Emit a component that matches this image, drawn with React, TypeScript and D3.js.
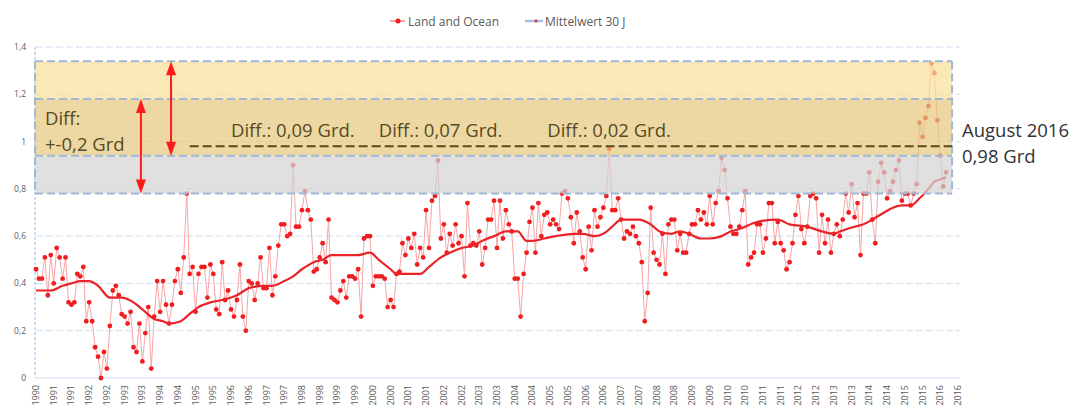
import React from 'react';
import * as d3 from 'd3';

// monthly anomalies (Land and Ocean)
const landOcean1990s = [
  0.46, 0.42, 0.42, 0.51, 0.35, 0.52, 0.40, 0.55, 0.51, 0.42,
  0.51, 0.32, 0.31, 0.32, 0.44, 0.43, 0.47, 0.24, 0.32, 0.24,
  0.13, 0.09, 0.00, 0.11, 0.04, 0.22, 0.37, 0.39, 0.35, 0.27,
  0.26, 0.23, 0.28, 0.13, 0.11, 0.23, 0.07, 0.19, 0.30, 0.04,
  0.26, 0.41, 0.28, 0.41, 0.31, 0.23, 0.31, 0.41, 0.46, 0.36,
  0.51, 0.78, 0.44, 0.47, 0.28, 0.44, 0.47, 0.47, 0.34, 0.48,
  0.44, 0.29, 0.27, 0.49, 0.33, 0.37, 0.29, 0.26, 0.33, 0.48,
  0.26, 0.20, 0.41, 0.40, 0.33, 0.40, 0.51, 0.38, 0.38, 0.55,
  0.35, 0.43, 0.56, 0.65, 0.65, 0.60, 0.61, 0.90, 0.64, 0.64,
  0.71, 0.79, 0.71, 0.67, 0.45, 0.46, 0.51, 0.57, 0.49, 0.67,
  0.34, 0.33, 0.32, 0.37, 0.41, 0.34, 0.43, 0.43, 0.42, 0.46, 0.26,
];
const landOcean2000s = [
  0.59, 0.60, 0.60, 0.39, 0.43, 0.43, 0.43, 0.42, 0.30, 0.33,
  0.30, 0.44, 0.45, 0.57, 0.52, 0.59, 0.55, 0.61, 0.48, 0.55,
  0.51, 0.71, 0.55, 0.75, 0.77, 0.92, 0.59, 0.65, 0.53, 0.61,
  0.56, 0.65, 0.57, 0.60, 0.43, 0.74, 0.56, 0.57, 0.56, 0.62,
  0.48, 0.55, 0.67, 0.67, 0.75, 0.55, 0.75, 0.59, 0.71, 0.65,
  0.62, 0.42, 0.42, 0.26, 0.44, 0.53, 0.66, 0.72, 0.53, 0.74,
  0.60, 0.69, 0.70, 0.65,
];
const landOcean2005s = [
  0.67, 0.65, 0.63, 0.78, 0.79, 0.76, 0.68, 0.57, 0.70, 0.62,
  0.51, 0.46, 0.64, 0.54, 0.71, 0.64, 0.68, 0.72, 0.77, 0.97,
  0.71, 0.71, 0.76, 0.67, 0.59, 0.62, 0.61, 0.64, 0.60, 0.57,
  0.49, 0.24, 0.36, 0.72, 0.53, 0.50, 0.48, 0.61, 0.44, 0.65,
  0.67, 0.67, 0.54, 0.61, 0.53, 0.53, 0.61, 0.65, 0.65, 0.71,
  0.67, 0.70, 0.65, 0.77, 0.65, 0.74, 0.79, 0.93, 0.88, 0.76,
  0.64, 0.61, 0.61, 0.64, 0.71, 0.79, 0.48,
];
const landOcean2010s = [
  0.51, 0.53, 0.65, 0.65, 0.53, 0.59, 0.74, 0.74, 0.57, 0.66,
  0.57, 0.54, 0.46, 0.49, 0.57, 0.69, 0.77, 0.63, 0.57, 0.64,
  0.77, 0.78, 0.76, 0.53, 0.69, 0.57, 0.67, 0.53, 0.61, 0.65,
  0.60, 0.67, 0.78, 0.70, 0.82, 0.68, 0.74, 0.52, 0.78, 0.78,
  0.87, 0.67, 0.57, 0.83, 0.91, 0.87, 0.76, 0.79, 0.83, 0.88,
  0.92, 0.75, 0.78, 0.78, 0.73, 0.78, 0.82,
];
const landOcean2015s = [1.08, 1.02, 1.10, 1.15, 1.33, 1.29, 1.09, 0.94, 0.81, 0.87];

// 30-year running mean (month index, value)
const meanMonth = [
  0, 5, 9, 12, 15, 18, 21, 25, 29, 33, 36, 40, 43, 45, 49, 51, 55, 59, 63, 68,
  72, 77, 80, 84, 87, 90, 94, 97, 100, 104, 109, 113, 116, 120, 122, 126, 130, 133, 137, 140,
  144, 148, 151, 155, 159, 163, 166, 168, 172, 176, 182, 185, 189, 192, 195, 198, 201, 204, 208, 211,
  215, 218, 221, 225, 228, 232, 235, 238, 244, 251, 255, 261, 266, 270, 272, 277, 280, 283, 287, 290,
  293, 296, 299, 302, 304, 306, 308,
];
const meanValue = [
  0.37, 0.37, 0.39, 0.40, 0.41, 0.41, 0.39, 0.34, 0.34, 0.32, 0.29, 0.25, 0.24, 0.23, 0.24, 0.26, 0.30, 0.32, 0.33, 0.35,
  0.38, 0.39, 0.39, 0.41, 0.43, 0.46, 0.49, 0.50, 0.52, 0.52, 0.52, 0.53, 0.50, 0.46, 0.44, 0.44, 0.44, 0.47, 0.51, 0.53,
  0.55, 0.56, 0.58, 0.60, 0.62, 0.62, 0.58, 0.58, 0.59, 0.60, 0.61, 0.61, 0.60, 0.61, 0.64, 0.67, 0.67, 0.67, 0.65, 0.62,
  0.61, 0.62, 0.61, 0.59, 0.59, 0.60, 0.62, 0.63, 0.66, 0.67, 0.65, 0.64, 0.62, 0.61, 0.62, 0.64, 0.65, 0.67, 0.70, 0.72,
  0.73, 0.73, 0.76, 0.80, 0.83, 0.84, 0.85,
];

const yTicks = [0, 0.2, 0.4, 0.6, 0.8, 1, 1.2, 1.4];
const xTickLabels = [
  '1990', '1991', '1991', '1992', '1992', '1993', '1993', '1994', '1994', '1995', '1995',
  '1996', '1996', '1997', '1997', '1998', '1998', '1999', '1999', '2000', '2000',
  '2001', '2001', '2002', '2002', '2003', '2003', '2004', '2004', '2005', '2005',
  '2006', '2006', '2007', '2007', '2008', '2008', '2009', '2009', '2010', '2010',
  '2011', '2011', '2012', '2012', '2013', '2013', '2014', '2014', '2015', '2015',
  '2016', '2016',
];

// band limits (Grd)
const bandGray = [0.78, 0.94];
const bandTan = [0.94, 1.18];
const bandYellow = [1.18, 1.34];
const augustLevel = 0.98;
const diffLabels = [
  { month: 66, text: 'Diff.: 0,09 Grd.' },
  { month: 116, text: 'Diff.: 0,07 Grd.' },
  { month: 173, text: 'Diff.: 0,02 Grd.' },
];

const W = 1077;
const H = 414;
const fmt = (v: number) => (v === 0 ? '0' : String(v).replace('.', ','));

export default function App() {
  const data = [...landOcean1990s, ...landOcean2000s, ...landOcean2005s, ...landOcean2010s, ...landOcean2015s];
  const x = d3.scaleLinear().domain([0, 312]).range([36, 958]);
  const y = d3.scaleLinear().domain([0, 1.4]).range([378, 47]);

  const rawLine = d3.line<number>().x((_, i) => x(i)).y(d => y(d))(data)!;
  const meanLine = d3.line<number>()
    .x((_, i) => x(meanMonth[i]))
    .y(d => y(d))
    .curve(d3.curveMonotoneX)(meanValue)!;

  const bx0 = x(0) - 1;
  const bx1 = x(310);
  const blue = '#9fb8d6';
  const olive = '#574a1e';

  const arrow = (xm: number, v0: number, v1: number) => {
    const cx = x(xm);
    const yt = y(v1);
    const yb = y(v0);
    return (
      <g>
        <line x1={cx} x2={cx} y1={yt + 10} y2={yb - 10} stroke="#ff1a1a" strokeWidth={2} />
        <path d={`M${cx},${yt} L${cx - 5},${yt + 14} L${cx + 5},${yt + 14} Z`} fill="#ff1a1a" />
        <path d={`M${cx},${yb} L${cx - 5},${yb - 14} L${cx + 5},${yb - 14} Z`} fill="#ff1a1a" />
      </g>
    );
  };

  return (
    <div style={{ position: 'absolute', left: 0, top: 0 }}>
      <svg width={W} height={H} style={{ display: 'block', fontFamily: '"Open Sans", sans-serif' }}>
        <rect width={W} height={H} fill="#fff" />

        {/* legend */}
        <g fontSize={12} fill="#5a5a5a">
          <line x1={390} x2={405} y1={21} y2={21} stroke="#f5a3a3" strokeWidth={2} />
          <circle cx={398} cy={21} r={2.5} fill="#f01e1e" />
          <text x={408} y={25.5}>Land and Ocean</text>
          <line x1={525} x2={543} y1={21} y2={21} stroke="#9dc3e6" strokeWidth={2.5} />
          <circle cx={536} cy={21} r={1.5} fill="#e0302a" />
          <text x={545} y={25.5}>Mittelwert 30 J</text>
        </g>

        {/* grid */}
        {yTicks.map(t => (
          <g key={t}>
            <line x1={36} x2={960} y1={y(t)} y2={y(t)} stroke="#d3dff0" strokeWidth={1}
              strokeDasharray={t === 0 ? undefined : '7,3'} />
            <text x={26} y={y(t) + 3} fontSize={8.5} fill="#595959" textAnchor="end">{fmt(t)}</text>
          </g>
        ))}
        <line x1={35} x2={35} y1={y(1.4)} y2={y(0)} stroke="#a9c6e8" strokeWidth={1.2} strokeDasharray="3,2" />

        {/* x labels */}
        {xTickLabels.map((l, k) => (
          <text key={k} transform={`translate(${x(k * 6) + 3},385) rotate(-90)`} fontSize={9}
            fill="#595959" textAnchor="end">{l}</text>
        ))}

        {/* series */}
        <path d={rawLine} fill="none" stroke="#f7a5a5" strokeWidth={1} />
        {data.map((d, i) => (
          <circle key={i} cx={x(i)} cy={y(d)} r={2.4} fill="#f01e1e" />
        ))}
        <path d={meanLine} fill="none" stroke="#ea2328" strokeWidth={2.2} />

        {/* bands */}
        <g opacity={0.7}>
          <rect x={bx0} width={bx1 - bx0} y={y(bandGray[1])} height={y(bandGray[0]) - y(bandGray[1])} fill="#d4d4d4" />
          <rect x={bx0} width={bx1 - bx0} y={y(bandTan[1])} height={y(bandTan[0]) - y(bandTan[1])} fill="#e6c87e" />
          <rect x={bx0} width={bx1 - bx0} y={y(bandYellow[1])} height={y(bandYellow[0]) - y(bandYellow[1])} fill="#fadf9a" />
        </g>
        {[bandGray[0], bandGray[1], bandTan[1], bandYellow[1]].map(v => (
          <line key={v} x1={bx0} x2={bx1} y1={y(v)} y2={y(v)} stroke={blue} strokeWidth={2} strokeDasharray="8,4" />
        ))}
        {[bx0, bx1].map(bx => (
          <line key={bx} x1={bx} x2={bx} y1={y(bandYellow[1])} y2={y(bandGray[0])} stroke={blue}
            strokeWidth={2} strokeDasharray="8,4" />
        ))}
        <line x1={x(52)} x2={bx1} y1={y(augustLevel)} y2={y(augustLevel)} stroke={olive} strokeWidth={2}
          strokeDasharray="9,4" />

        {arrow(35.5, bandGray[0], bandTan[1])}
        {arrow(45.7, bandGray[1], bandYellow[1])}

        {/* annotations */}
        <g fontSize={18.5} fill={olive}>
          <text x={45} y={125}>Diff:</text>
          <text x={45} y={151}>+-0,2 Grd</text>
          {diffLabels.map(d => (
            <text key={d.text} x={x(d.month)} y={137}>{d.text}</text>
          ))}
        </g>
        <g fontSize={18.5} fill="#333" fontWeight={500}>
          <text x={962} y={137}>August 2016</text>
          <text x={962} y={163}>0,98 Grd</text>
        </g>
      </svg>
    </div>
  );
}
